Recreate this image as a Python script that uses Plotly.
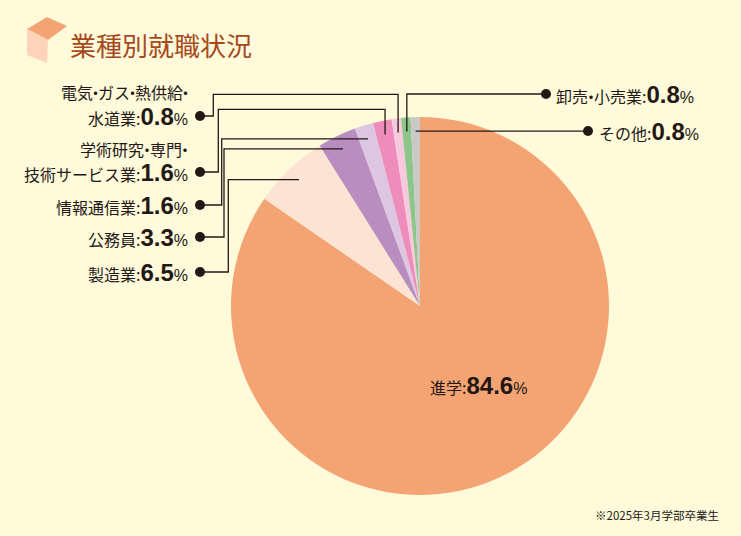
import math
import re
import plotly.graph_objects as go

# ---- data ----
categories = ["進学", "製造業", "公務員", "情報通信業", "学術研究・専門・技術サービス業",
              "電気・ガス・熱供給・水道業", "卸売・小売業", "その他"]
values = [84.6, 6.5, 3.3, 1.6, 1.6, 0.8, 0.8, 0.8]
colors = ["#F4A472", "#FDE3D3", "#B98DC0", "#DCC6E1", "#EE8DBB", "#F7C9DE", "#8DC68B", "#C9C9C9"]
title_text = "業種別就職状況"
note_text = "※2025年3月学部卒業生"

W, H = 741, 536
CX, CY, R = 420, 306, 189
BG = "#FEFADA"
INK = "#231815"
JP = "Noto Sans CJK JP"
NUM = "Liberation Sans"

fig = go.Figure()
fig.add_trace(go.Pie(
    labels=categories, values=values, sort=False, direction="clockwise", rotation=0,
    marker=dict(colors=colors, line=dict(width=0)), textinfo="none", hoverinfo="label+percent",
    showlegend=False,
    domain=dict(x=[(CX - R) / W, (CX + R) / W], y=[1 - (CY + R) / H, 1 - (CY - R) / H]),
))

# slice-anchor dots computed from data
total = sum(values)
cum = 0
anchors = []
for v in values:
    th = math.radians(360 * (cum + v / 2) / total)
    anchors.append((CX + 175 * math.sin(th), CY - 175 * math.cos(th)))
    cum += v


def tight(s, ls=-5):
    # narrow the middle dots like proportional Japanese typesetting
    return re.sub(r"(.)・", rf"<span style='letter-spacing:{ls}px'>\1・</span>", s)


def lbl(name, val):
    return (f"{tight(name)}:<span style='font-family:{NUM};font-size:24px'><b>{val:.1f}</b></span>"
            f"<span style='font-family:{NUM};font-size:16px'>%</span>")


# left-side labels: (index, label dot y, elbow x)
left = [(1, 272, 228.3), (2, 237, 224), (3, 205, 221.7), (4, 172, 218.3), (5, 116, 213.3)]
tops = {4: 109.3, 5: 94.3}
shapes = []
dots_x, dots_y, dots_s = [], [], []
LW = 1.3
for i, ly, ex in left:
    ax, ay = anchors[i]
    if i in tops:
        top = tops[i]
        path = f"M200,{ly} L{ex},{ly} L{ex},{top} L{ax},{top} L{ax},{ay}"
    else:
        path = f"M200,{ly} L{ex},{ly} L{ex},{ay} L{ax},{ay}"
    shapes.append(dict(type="path", path=path, xref="x", yref="y",
                       line=dict(color=INK, width=LW)))
    dots_x.append(200); dots_y.append(ly); dots_s.append(10)
    dots_x.append(ax); dots_y.append(ay); dots_s.append(5)

# right-side labels
ax6, ay6 = anchors[6]
shapes.append(dict(type="path", path=f"M546,94 L{ax6},94 L{ax6},{ay6}", xref="x", yref="y",
                   line=dict(color=INK, width=LW)))
dots_x += [546, ax6]; dots_y += [94, ay6]; dots_s += [10, 5]
ax7, ay7 = anchors[7]
shapes.append(dict(type="path", path=f"M588,{ay7} L{ax7},{ay7}", xref="x", yref="y",
                   line=dict(color=INK, width=LW)))
dots_x += [588, ax7]; dots_y += [ay7, ay7]; dots_s += [10, 5]

# icon (cube)
shapes.append(dict(type="path", path="M27,29 L47,17 L67,26 L48,40 Z", xref="x", yref="y",
                   fillcolor="#F4A472", line=dict(width=0)))
shapes.append(dict(type="path", path="M27,29 L48,40 L47,63 L27,55 Z", xref="x", yref="y",
                   fillcolor="#FDD3BA", line=dict(width=0)))

fig.add_trace(go.Scatter(x=dots_x, y=dots_y, mode="markers", hoverinfo="skip", showlegend=False,
                         marker=dict(size=dots_s, color=INK, opacity=1, line=dict(width=0))))

ann = []


def add(text, x, y, xa="right", size=16, color=INK, family=JP):
    ann.append(dict(text=text, x=x, y=y, xref="x", yref="y", xanchor=xa, yanchor="middle",
                    showarrow=False, font=dict(family=family, size=size, color=color)))


add(tight("電気・ガス・熱供給・", -5.5), 190, 92)
add(lbl("水道業", values[5]), 190, 116)
add(tight("学術研究・専門・"), 190, 149)
add(lbl("技術サービス業", values[4]), 190, 172)
add(lbl("情報通信業", values[3]), 190, 205)
add(lbl("公務員", values[2]), 190, 237)
add(lbl("製造業", values[1]), 190, 272)
add(lbl("卸売・小売業", values[6]), 554, 94, xa="left")
add(lbl("その他", values[7]), 597, ay7, xa="left")
add(lbl("進学", values[0]), 428, 385, xa="left")
add(title_text, 68, 44, xa="left", size=26, color="#A54A1E")
add(note_text, 721, 515, xa="right", size=11.5)

fig.update_layout(
    width=W, height=H, margin=dict(l=0, r=0, t=0, b=0),
    paper_bgcolor=BG, plot_bgcolor="rgba(0,0,0,0)",
    xaxis=dict(range=[0, W], visible=False, fixedrange=True, domain=[0, 1]),
    yaxis=dict(range=[H, 0], visible=False, fixedrange=True, domain=[0, 1]),
    shapes=shapes, annotations=ann,
)
fig.write_html("out.html", config={"displayModeBar": False},
               post_script="document.body.style.margin='0';document.body.style.overflow='hidden';")
